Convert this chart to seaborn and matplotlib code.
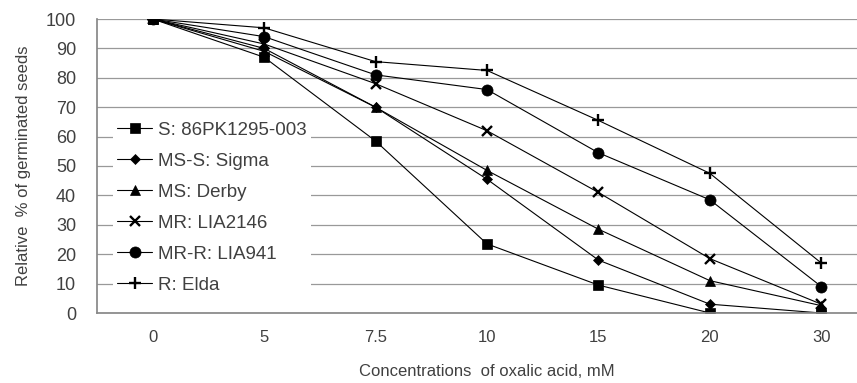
import numpy as np
import pandas as pd
import matplotlib
matplotlib.use("Agg")
import matplotlib.pyplot as plt
import seaborn as sns

# concentraciones (categorias del eje x)
conc = ["0", "5", "7.5", "10", "15", "20", "30"]

# % relativo de semillas germinadas por cultivar
s_86pk = [100, 87, 58.5, 23.5, 9.5, 0, 0]
ms_s_sigma = [100, 90, 70, 45.5, 18, 3, 0]
ms_derby = [100, 89, 70, 48.5, 28.5, 11, 2.5]
mr_lia2146 = [100, 91.5, 78, 62, 41, 18.5, 3]
mr_r_lia941 = [100, 94, 81, 76, 54.5, 38.5, 9]
r_elda = [100, 97, 85.5, 82.5, 65.5, 47.5, 17]

nombres = ["S: 86PK1295-003", "MS-S: Sigma", "MS: Derby",
           "MR: LIA2146", "MR-R: LIA941", "R: Elda"]
series = [s_86pk, ms_s_sigma, ms_derby, mr_lia2146, mr_r_lia941, r_elda]

filas = []
for nom, vals in zip(nombres, series):
    for i, v in enumerate(vals):
        filas.append({"pos": i, "conc": conc[i], "cultivar": nom, "pct": v})
df = pd.DataFrame(filas)

sns.set_theme(style="white")
plt.rcParams["font.family"] = ["Liberation Sans", "DejaVu Sans"]

gris = "#404040"
fig = plt.figure(figsize=(8.57, 3.83), dpi=100)
ax = fig.add_axes([97 / 857, 1 - 313 / 383, 780 / 857, 294 / 383])

marcadores = {nombres[0]: "s", nombres[1]: "D", nombres[2]: "^",
              nombres[3]: "x", nombres[4]: "o", nombres[5]: "+"}
tamanos = {"s": 7.5, "D": 5, "^": 7.5, "x": 7.5, "o": 8, "+": 8.5}

for nom in nombres:
    sub = df[df["cultivar"] == nom]
    m = marcadores[nom]
    sns.lineplot(data=sub, x="pos", y="pct", ax=ax, color="black",
                 linewidth=0.8, marker=m, markersize=tamanos[m],
                 markeredgewidth=1.7 if m in "x+" else 0.5,
                 markeredgecolor="black", label=nom)

ax.set_xlim(-0.5, 6.5)
ax.set_ylim(0, 100)
ax.set_yticks(range(0, 101, 10))
ax.set_xticks(list(range(len(conc))))
ax.set_xticklabels(conc, fontsize=12, color=gris)
ax.set_xticks(np.arange(-0.5, 7, 1), minor=True)
ax.tick_params(axis="x", which="major", length=0, pad=12)
ax.tick_params(axis="x", which="minor", length=5, color="#888888", width=0.8)
ax.tick_params(axis="y", direction="inout", length=8, color="#888888",
               width=0.8, labelsize=13, labelcolor=gris, pad=11)
ax.yaxis.grid(True, color="#999999", linewidth=0.9)
ax.set_axisbelow(True)
for lado in ["top", "right"]:
    ax.spines[lado].set_visible(False)
ax.spines["left"].set_color("#888888")
ax.spines["bottom"].set_color("#888888")

ax.set_ylabel("Relative  % of germinated seeds", fontsize=12, color=gris,
              labelpad=11)
ax.set_xlabel("Concentrations  of oxalic acid, mM", fontsize=12, color=gris,
              labelpad=14)

leg = ax.legend(loc="upper left", bbox_to_anchor=(0.02, 0.666), frameon=True,
                facecolor="white", edgecolor="none", framealpha=1,
                fontsize=13.5, labelspacing=0.74, handlelength=1.85,
                handletextpad=0.32, borderpad=0.25, borderaxespad=0)
for t in leg.get_texts():
    t.set_color(gris)

fig.savefig("out.png", dpi=100)
